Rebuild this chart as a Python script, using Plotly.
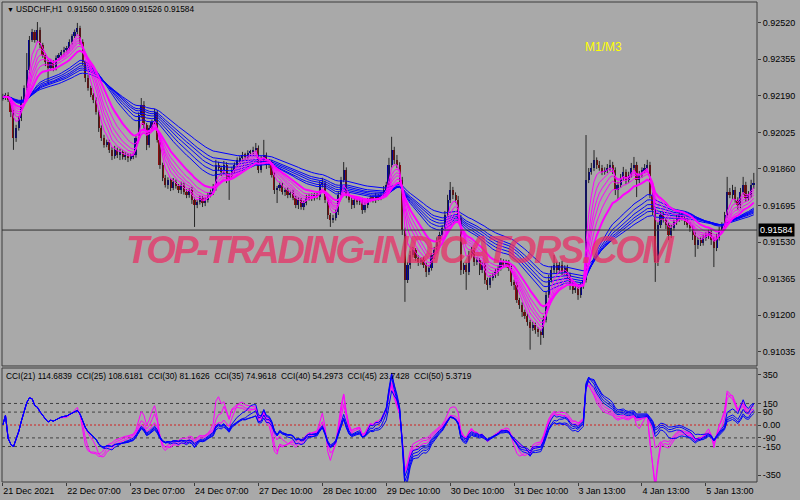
import numpy as np
import pandas as pd
import plotly.graph_objects as go

# ---------------- data (price in points = price * 1e5) ----------------
first_open_pts = 92180
close_pts = [
    92185, 92194, 92171, 92117, 92000, 92045, 92090, 92171, 92225, 92306,
    92442, 92478, 92442, 92487, 92419, 92374, 92342, 92315, 92342, 92315,
    92360, 92374, 92387, 92397, 92406, 92433, 92460, 92478, 92496, 92433,
    92342, 92270, 92225, 92194, 92171, 92117, 92045, 92000, 91968, 91982,
    91946, 91918, 91946, 91923, 91937, 91914, 91923, 91909, 91918, 91923,
    92000, 92103, 92148, 92058, 91968, 92045, 92072, 92117, 91991, 91878,
    91819, 91788, 91810, 91774, 91801, 91783, 91765, 91788, 91756, 91742,
    91765, 91720, 91697, 91711, 91729, 91706, 91720, 91742, 91756, 91774,
    91878, 91864, 91846, 91878, 91810, 91833, 91855, 91878, 91900, 91909,
    91923, 91914, 91932, 91937, 91946, 91954, 91855, 91900, 91923, 91878,
    91891, 91833, 91765, 91774, 91788, 91756, 91765, 91742, 91752, 91729,
    91697, 91720, 91688, 91706, 91729, 91738, 91729, 91742, 91733, 91788,
    91797, 91720, 91652, 91630, 91639, 91666, 91742, 91810, 91855, 91742,
    91720, 91697, 91720, 91711, 91720, 91675, 91697, 91720, 91729, 91720,
    91738, 91729, 91742, 91765, 91788, 91878, 91946, 91900, 91878, 91810,
    91585, 91359, 91427, 91472, 91494, 91458, 91440, 91449, 91427, 91395,
    91413, 91472, 91494, 91540, 91562, 91594, 91652, 91720, 91765, 91742,
    91720, 91639, 91404, 91427, 91395, 91472, 91494, 91440, 91449, 91404,
    91427, 91359, 91337, 91368, 91382, 91395, 91413, 91440, 91427, 91440,
    91413, 91350, 91337, 91269, 91246, 91215, 91197, 91170, 91143, 91156,
    91134, 91125, 91111, 91179, 91292, 91359, 91404, 91427, 91404, 91427,
    91395, 91413, 91382, 91337, 91314, 91323, 91292, 91337, 91359, 91810,
    91846, 91864, 91900, 91878, 91864, 91846, 91855, 91864, 91878, 91855,
    91765, 91788, 91819, 91846, 91810, 91833, 91864, 91878, 91810, 91833,
    91855, 91864, 91878, 91742, 91675, 91440, 91607, 91652, 91630, 91607,
    91562, 91594, 91621, 91639, 91652, 91639, 91621, 91607, 91594, 91562,
    91517, 91540, 91526, 91549, 91562, 91576, 91540, 91503, 91549, 91585,
    91607, 91652, 91756, 91742, 91765, 91720, 91697, 91756, 91788, 91729,
    91742, 91788, 91797,
]
up_wick_pts = [
    14, 9, 12, 8, 10, 14, 9, 16, 12, 77,
    18, 14, 9, 36, 12, 10, 9, 14, 11, 8,
    12, 9, 10, 14, 9, 12, 8, 11, 23, 10,
    12, 9, 14, 10, 8, 12, 9, 11, 14, 10,
    9, 12, 18, 10, 14, 9, 12, 8, 11, 10,
    14, 12, 32, 18, 9, 12, 10, 14, 9, 11,
    10, 14, 12, 9, 18, 11, 9, 14, 10, 12,
    9, 14, 11, 10, 12, 9, 14, 11, 10, 18,
    23, 14, 10, 18, 12, 9, 14, 11, 12, 9,
    14, 10, 12, 9, 14, 23, 12, 18, 68, 11,
    14, 10, 12, 9, 14, 11, 10, 12, 9, 14,
    10, 12, 9, 11, 14, 10, 12, 9, 14, 18,
    23, 10, 12, 9, 14, 11, 18, 14, 36, 12,
    10, 14, 9, 12, 11, 10, 14, 9, 12, 10,
    14, 9, 12, 18, 14, 32, 59, 14, 23, 12,
    14, 10, 12, 18, 14, 9, 12, 11, 14, 10,
    12, 9, 14, 11, 14, 12, 18, 23, 36, 14,
    12, 18, 14, 9, 12, 18, 14, 10, 12, 9,
    14, 11, 10, 12, 9, 14, 11, 18, 12, 10,
    9, 12, 10, 14, 9, 12, 10, 11, 9, 14,
    10, 12, 9, 18, 14, 23, 18, 45, 14, 12,
    18, 12, 14, 10, 12, 18, 14, 12, 10, 203,
    18, 23, 45, 12, 18, 14, 12, 18, 23, 14,
    12, 14, 18, 23, 12, 14, 23, 36, 14, 18,
    12, 18, 23, 14, 12, 14, 12, 18, 14, 10,
    12, 14, 10, 18, 14, 12, 9, 14, 12, 10,
    14, 12, 10, 14, 12, 9, 14, 12, 18, 14,
    12, 14, 68, 18, 23, 14, 12, 18, 36, 14,
    18, 23, 45,
]
dn_wick_pts = [
    12, 14, 9, 23, 54, 18, 12, 14, 10, 12,
    14, 9, 12, 10, 14, 12, 18, 68, 12, 14,
    10, 12, 9, 14, 11, 10, 12, 9, 14, 12,
    14, 18, 12, 10, 14, 12, 18, 14, 12, 10,
    14, 18, 12, 14, 23, 12, 14, 18, 12, 14,
    12, 10, 14, 18, 23, 12, 10, 14, 12, 18,
    14, 12, 18, 14, 10, 12, 14, 18, 12, 14,
    12, 18, 99, 14, 12, 18, 14, 12, 10, 14,
    12, 14, 18, 12, 14, 90, 12, 14, 10, 12,
    14, 12, 10, 14, 12, 9, 14, 12, 10, 18,
    14, 12, 18, 59, 14, 12, 18, 14, 12, 10,
    14, 18, 12, 14, 10, 12, 14, 12, 10, 14,
    12, 14, 18, 32, 14, 12, 14, 12, 10, 14,
    12, 18, 14, 12, 14, 18, 12, 14, 10, 12,
    14, 12, 10, 14, 12, 14, 12, 18, 14, 12,
    23, 99, 14, 18, 12, 14, 18, 12, 14, 23,
    14, 12, 18, 14, 12, 10, 14, 12, 14, 18,
    12, 14, 23, 18, 81, 14, 12, 18, 14, 23,
    14, 18, 23, 14, 12, 14, 18, 12, 14, 12,
    14, 18, 23, 14, 18, 23, 14, 18, 99, 14,
    18, 23, 45, 14, 12, 14, 12, 14, 18, 12,
    14, 12, 18, 23, 18, 14, 23, 14, 18, 12,
    14, 12, 14, 18, 12, 14, 12, 14, 12, 18,
    23, 45, 14, 12, 18, 14, 12, 14, 77, 14,
    12, 14, 18, 14, 23, 90, 18, 14, 12, 18,
    23, 14, 12, 14, 18, 12, 14, 12, 18, 23,
    54, 18, 14, 12, 14, 18, 23, 86, 14, 12,
    14, 18, 12, 14, 18, 12, 23, 14, 12, 18,
    14, 12, 18,
]

price_ticks = [0.92520, 0.92355, 0.92190, 0.92025, 0.91860, 0.91695,
               0.91530, 0.91365, 0.91200, 0.91035]
current_price = 0.91584
header_ohlc = ["0.91560", "0.91609", "0.91526", "0.91584"]
time_tick_bars = [0, 24, 48, 72, 96, 120, 144, 168, 192, 216, 240, 264]
time_tick_labels = ["21 Dec 2021", "22 Dec 07:00", "23 Dec 07:00", "24 Dec 07:00",
                    "27 Dec 10:00", "28 Dec 10:00", "29 Dec 10:00", "30 Dec 10:00",
                    "31 Dec 10:00", "3 Jan 13:00", "4 Jan 13:00", "5 Jan 13:00"]
ema_fast_periods = [4, 6, 8, 10, 13, 18]
ema_slow_periods = [30, 35, 40, 45, 50, 60]
cci_periods = [21, 25, 30, 35, 40, 45, 50]
cci_header_values = ["114.6839", "108.6181", "81.1626", "74.9618",
                     "54.2973", "23.7428", "5.3719"]
cci_ticks = [350, 150, 90, 0, -90, -150, -350]
cci_ticktext = ["350", "150", "90", "0.00", "-90", "-150", "-350"]
cci_levels = [150, 90, -90, -150]
watermark = "TOP-TRADING-INDICATORS.COM"

# ---------------- derived series ----------------
n = len(close_pts)
assert len(up_wick_pts) == n and len(dn_wick_pts) == n, (n, len(up_wick_pts), len(dn_wick_pts))
idx = np.arange(n)
close = np.array(close_pts) / 1e5
opn = np.concatenate([[first_open_pts / 1e5], close[:-1]])
high = np.maximum(opn, close) + np.array(up_wick_pts) / 1e5
low = np.minimum(opn, close) - np.array(dn_wick_pts) / 1e5

cs = pd.Series(close)
tp = pd.Series((high + low + close) / 3)

def cci(period):
    sma = tp.rolling(period, min_periods=1).mean()
    md = tp.rolling(period, min_periods=1).apply(lambda w: np.mean(np.abs(w - w.mean())), raw=True)
    v = (tp - sma) / (0.015 * md)
    return v.replace([np.inf, -np.inf], np.nan).fillna(0).values

FONT = "Liberation Sans, Arial, sans-serif"
BG = "#a9a9a9"
FRAME = "#3c3c3c"

fig = go.Figure()

# wicks
wx, wy = [], []
for i in idx:
    wx += [i, i, None]
    wy += [low[i], high[i], None]
fig.add_trace(go.Scatter(x=wx, y=wy, mode="lines", line=dict(color="#262626", width=1),
                         hoverinfo="skip", xaxis="x", yaxis="y"))
# bodies
body_colors = ["#00009a" if c >= o else "#8b0d0d" for o, c in zip(opn, close)]
fig.add_trace(go.Bar(x=idx, y=close - opn, base=opn, width=0.75,
                     marker=dict(color=body_colors, line=dict(width=0)),
                     xaxis="x", yaxis="y"))

# moving averages
for p in ema_slow_periods:
    fig.add_trace(go.Scatter(x=idx, y=cs.ewm(span=p, adjust=False).mean(), mode="lines",
                             line=dict(color="#0000ff", width=1), xaxis="x", yaxis="y"))
for p in ema_fast_periods:
    fig.add_trace(go.Scatter(x=idx, y=cs.ewm(span=p, adjust=False).mean(), mode="lines",
                             line=dict(color="#ff00ff", width=2 if p == ema_fast_periods[-1] else 1),
                             xaxis="x", yaxis="y"))

# CCI lines
for p in cci_periods:
    col = "#ff00ff" if p <= 30 else "#0000ff"
    fig.add_trace(go.Scatter(x=idx, y=cci(p), mode="lines", line=dict(color=col, width=1),
                             xaxis="x2", yaxis="y2"))

x_range = [-0.3, 283.2]
main_dom = [0.2417, 1.0]
cci_dom = [0.0, 0.2375]

shapes = []
for d in (main_dom, cci_dom):
    shapes.append(dict(type="rect", xref="paper", yref="paper", x0=0, x1=1, y0=d[0], y1=d[1],
                       line=dict(color=FRAME, width=1)))
shapes.append(dict(type="line", xref="paper", yref="y", x0=0, x1=1, y0=current_price, y1=current_price,
                   line=dict(color="#303030", width=1)))
for lv in cci_levels:
    shapes.append(dict(type="line", xref="paper", yref="y2", x0=0, x1=1, y0=lv, y1=lv,
                       line=dict(color="#404040", width=1, dash="3px,3px"), layer="below"))
shapes.append(dict(type="line", xref="paper", yref="y2", x0=0, x1=1, y0=0, y1=0,
                   line=dict(color="#d02020", width=1, dash="2px,2px"), layer="below"))

annotations = [
    dict(text="▼", x=0.004, y=0.985, xref="paper", yref="paper", xanchor="left", yanchor="middle",
         showarrow=False, font=dict(family=FONT, size=7, color="#000000")),
    dict(text="USDCHF,H1  " + " ".join(header_ohlc), x=0.016, y=0.985, xref="paper", yref="paper",
         xanchor="left", yanchor="middle", showarrow=False, font=dict(family=FONT, size=8.3, color="#000000")),
    dict(text="M1/M3", x=0.7695, y=0.906, xref="paper", yref="paper", xanchor="left", yanchor="middle",
         showarrow=False, font=dict(family=FONT, size=12, color="#ffff00")),
    dict(text="  ".join(f"CCI({p}) {v}" for p, v in zip(cci_periods, cci_header_values)),
         x=0.003, y=0.221, xref="paper", yref="paper", xanchor="left", yanchor="middle",
         showarrow=False, font=dict(family=FONT, size=8.4, color="#000000")),
    dict(text=f"{current_price:.5f}", x=1, y=current_price, xref="paper", yref="y",
         xanchor="left", yanchor="middle", xshift=1, showarrow=False, bgcolor="#000000",
         borderpad=1, font=dict(family=FONT, size=9, color="#ffffff")),
    dict(text=f'<b><i><span style="letter-spacing:-2.4px">{watermark}</span></i></b>',
         x=0.528, y=0.483, xref="paper", yref="paper",
         xanchor="center", yanchor="middle", showarrow=False,
         font=dict(family=FONT, size=38, color="rgba(235,45,100,0.72)")),
]

fig.update_layout(
    width=800, height=500,
    margin=dict(l=2, r=43, t=2, b=18, autoexpand=False),
    paper_bgcolor=BG, plot_bgcolor=BG,
    showlegend=False,
    bargap=0,
    shapes=shapes,
    annotations=annotations,
    font=dict(family=FONT, size=9, color="#000000"),
    xaxis=dict(domain=[0, 1], anchor="y", range=x_range, showticklabels=False, ticks="",
               showgrid=False, zeroline=False, showline=False, automargin=False),
    yaxis=dict(domain=main_dom, anchor="x", side="right", range=[0.909705, 0.926134],
               tickvals=price_ticks, ticktext=[f"{v:.5f}" for v in price_ticks],
               ticks="outside", ticklen=3, tickcolor=FRAME, showgrid=False, zeroline=False,
               showline=False, automargin=False, tickfont=dict(family=FONT, size=9, color="#000000")),
    xaxis2=dict(domain=[0, 1], anchor="y2", range=x_range, tickvals=time_tick_bars,
                ticktext=time_tick_labels, ticks="outside", ticklen=3, tickcolor=FRAME,
                ticklabelposition="outside right", showgrid=False, zeroline=False, showline=False,
                automargin=False, tickfont=dict(family=FONT, size=9, color="#000000")),
    yaxis2=dict(domain=cci_dom, anchor="x2", side="right", range=[-397, 397],
                tickvals=cci_ticks, ticktext=cci_ticktext, ticks="outside", ticklen=3,
                tickcolor=FRAME, showgrid=False, zeroline=False, showline=False, automargin=False,
                tickfont=dict(family=FONT, size=9, color="#000000")),
)

fig.write_html("out.html", config={"displayModeBar": False},
               post_script="document.body.style.margin='0';document.body.style.overflow='hidden';")
